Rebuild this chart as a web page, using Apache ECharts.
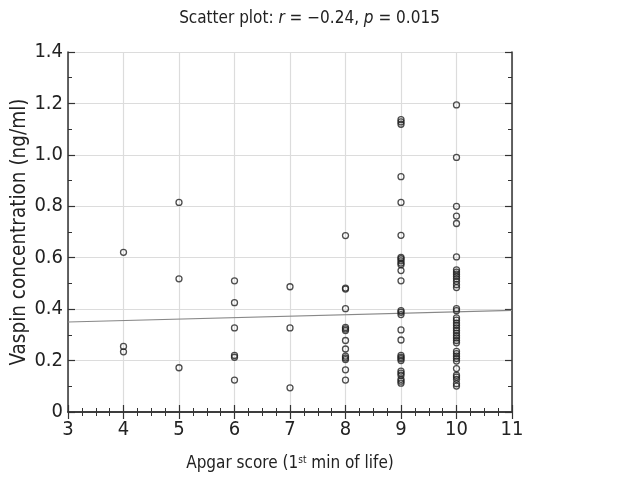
<!DOCTYPE html>
<html><head><meta charset="utf-8">
<script src="https://cdn.jsdelivr.net/npm/echarts@6/dist/echarts.min.js"></script>
<style>html,body{margin:0;padding:0;background:#fff}#c{width:619px;height:479px}</style>
</head><body><div id="c"></div>
<script>
var FONT = "'DejaVu Sans Condensed','Liberation Sans Narrow','Noto Sans',sans-serif";
var score4 = [0.621, 0.255, 0.234];
var score5 = [0.815, 0.518, 0.172];
var score6 = [0.510, 0.425, 0.327, 0.220, 0.213, 0.124];
var score7 = [0.487, 0.327, 0.094];
var score8 = [0.686, 0.482, 0.478, 0.402, 0.329, 0.323, 0.317, 0.278, 0.245, 0.217, 0.210, 0.204, 0.164, 0.124];
var score9 = [1.137, 1.128, 1.119, 0.915, 0.815, 0.687, 0.601, 0.596, 0.588, 0.579, 0.573, 0.550, 0.510, 0.394, 0.388, 0.379, 0.319, 0.280, 0.220, 0.213, 0.207, 0.200, 0.159, 0.151, 0.143, 0.127, 0.120, 0.112];
var score10 = [1.194, 0.990, 0.800, 0.762, 0.733, 0.603, 0.553, 0.544, 0.536, 0.527, 0.518, 0.508, 0.495, 0.484, 0.402, 0.394, 0.366, 0.357, 0.346, 0.337, 0.327, 0.317, 0.307, 0.297, 0.288, 0.278, 0.269, 0.236, 0.227, 0.217, 0.208, 0.198, 0.169, 0.143, 0.136, 0.127, 0.110, 0.101];
var scores = [4, 5, 6, 7, 8, 9, 10];
var groups = [score4, score5, score6, score7, score8, score9, score10];
var fitX = [3, 11];
var fitY = [0.350, 0.395];

var pts = [];
scores.forEach(function (s, i) { groups[i].forEach(function (v) { pts.push([s, v]); }); });
var fit = fitX.map(function (x, i) { return [x, fitY[i]]; });

var axisLine = { show: true, lineStyle: { color: '#333', width: 1.5 } };
var chart = echarts.init(document.getElementById('c'));
chart.setOption({
  animation: false,
  title: {
    text: '{n|Scatter plot: }{i|r}{n| = \u22120.24, }{i|p}{n| = 0.015}',
    left: 'center', top: 5,
    textStyle: { fontWeight: 'normal', rich: {
      n: { fontFamily: FONT, fontSize: 17, color: '#222', fontWeight: 'normal' },
      i: { fontFamily: FONT, fontSize: 17, color: '#222', fontStyle: 'italic', fontWeight: 'normal' }
    } }
  },
  grid: { left: 68, right: 107, top: 52, bottom: 67, outerBoundsMode: 'none', containLabel: false },
  xAxis: [{
    type: 'value', min: 3, max: 11, interval: 1,
    name: '{n|Apgar score (1}{s|st}{n| min of life)}',
    nameLocation: 'middle', nameGap: 43,
    nameTextStyle: { rich: {
      n: { fontFamily: FONT, fontSize: 17, color: '#222' },
      s: { fontFamily: FONT, fontSize: 10, color: '#222', verticalAlign: 'top', padding: [0, 0, 7, 0] }
    } },
    axisLine: axisLine,
    axisTick: { show: true, inside: true, length: 7, lineStyle: { color: '#333', width: 1.2 } },
    minorTick: { show: true, splitNumber: 4, length: 4, lineStyle: { color: '#333', width: 1 } },
    axisLabel: { fontFamily: FONT, fontSize: 20, color: '#222', margin: 8 },
    splitLine: { show: true, lineStyle: { color: '#dcdcdc', width: 1.2 } }
  }, {
    type: 'value', min: 3, max: 11, interval: 1, position: 'top',
    axisLine: axisLine,
    axisTick: { show: true, inside: true, length: 7, lineStyle: { color: '#333', width: 1.2 } },
    minorTick: { show: true, splitNumber: 4, length: 4, lineStyle: { color: '#333', width: 1 } },
    axisLabel: { show: false }, splitLine: { show: false }
  }],
  yAxis: [{
    type: 'value', min: 0, max: 1.4, interval: 0.2,
    name: 'Vaspin concentration (ng/ml)',
    nameLocation: 'middle', nameGap: 38, nameMoveOverlap: false,
    nameTextStyle: { fontFamily: FONT, fontSize: 20.5, color: '#222' },
    axisLine: axisLine,
    axisTick: { show: true, inside: true, length: 7, lineStyle: { color: '#333', width: 1.2 } },
    minorTick: { show: true, splitNumber: 2, length: 4, lineStyle: { color: '#333', width: 1 } },
    axisLabel: { fontFamily: FONT, fontSize: 20, color: '#222', margin: 5,
      formatter: function (v) { return v === 0 ? '0' : v.toFixed(1); } },
    splitLine: { show: true, lineStyle: { color: '#dcdcdc', width: 1.2 } }
  }, {
    type: 'value', min: 0, max: 1.4, interval: 0.2, position: 'right',
    axisLine: axisLine,
    axisTick: { show: true, inside: true, length: 7, lineStyle: { color: '#333', width: 1.2 } },
    minorTick: { show: true, splitNumber: 2, length: 4, lineStyle: { color: '#333', width: 1 } },
    axisLabel: { show: false }, splitLine: { show: false }
  }],
  series: [{
    type: 'line', data: fit, showSymbol: false, symbol: 'none',
    lineStyle: { color: '#888', width: 1.2 }, z: 2
  }, {
    type: 'scatter', data: pts, symbol: 'circle', symbolSize: 6,
    itemStyle: { color: 'rgba(255,255,255,0)', borderColor: '#222', borderWidth: 1.3 }, z: 3
  }]
});
</script></body></html>
